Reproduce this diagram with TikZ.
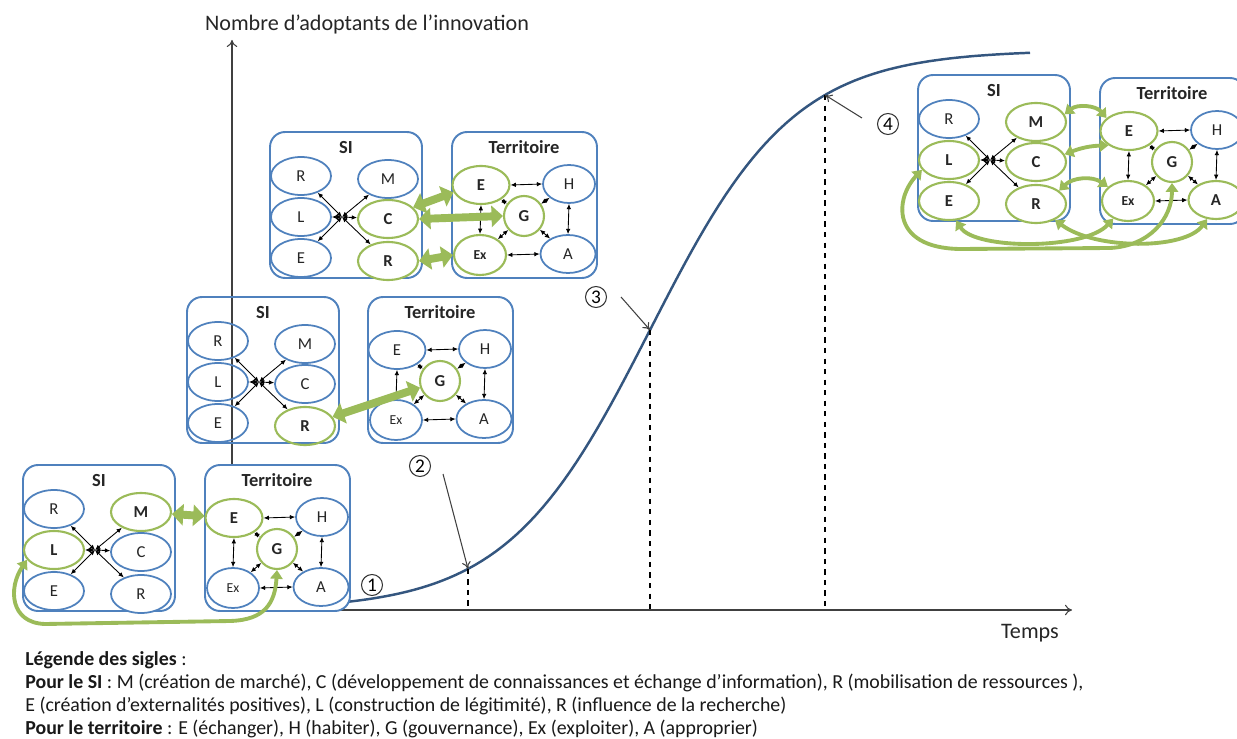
\documentclass[tikz,border=0pt]{standalone}
\usepackage{fontspec}
\setmainfont{Carlito}
\usepackage{tikz}
\usetikzlibrary{arrows.meta,shapes.geometric,calc}
\definecolor{bleuSI}{HTML}{4F81BD}
\definecolor{vertSI}{HTML}{9BBB59}
\definecolor{bleuCourbe}{HTML}{34567F}
\definecolor{gris}{HTML}{404040}
\newcommand{\Pente}{71.8}
\newcommand{\Milieu}{650}
% panneau SI : nom, x, y, puis styles de R, L, E, M, C, R
\newcommand{\PanneauSI}[9]{%
  \node[panel, minimum width=3.04cm] (#1) at (#2+76,#3-73) {};
  \node[titre] (#1-t) at (#2+76,#3-16) {SI};
  \node[sigle, #4] (#1-r) at (#2+31,#3-44) {R};
  \node[sigle, #5] (#1-l) at (#2+31,#3-85) {L};
  \node[sigle, #6] (#1-e) at (#2+31,#3-126) {E};
  \node[sigle, #7] (#1-m) at (#2+118,#3-47) {M};
  \node[sigle, #8] (#1-c) at (#2+118,#3-87) {C};
  \node[sigle, #9] (#1-rr) at (#2+118,#3-129) {R};
  \coordinate (#1-hub) at (#2+72,#3-85);
  \foreach \n in {r,l,e,m,c,rr}
    \draw[fleche] (#1-hub) -- (#1-\n);
}
% panneau territoire : nom, x, y, puis styles de E, H, G, Ex, A
\newcommand{\PanneauTE}[8]{%
  \node[panel, minimum width=2.9cm] (#1) at (#2+72.5,#3-73) {};
  \node[titre] (#1-t) at (#2+72,#3-15) {Territoire};
  \node[sigle, minimum width=1.14cm, #4] (#1-e) at (#2+29,#3-53) {E};
  \node[sigle, minimum width=1.04cm, #5] (#1-h) at (#2+117,#3-52) {H};
  \node[sigle, circle, minimum size=0.8cm, #6] (#1-g) at (#2+72,#3-84) {G};
  \node[sigle, minimum width=1.04cm, minimum height=0.8cm, #7] (#1-x) at (#2+28,#3-123) {\fontsize{7.8}{9}\selectfont Ex};
  \node[sigle, minimum width=1.1cm, #8] (#1-a) at (#2+116,#3-122) {A};
  \draw[fleche] (#1-e.east) -- (#1-h.west);
  \draw[fleche] (#1-e.south) -- (#1-x.north);
  \draw[fleche] (#1-h.south) -- (#1-a.north);
  \draw[fleche] (#1-x.east) -- (#1-a.west);
  \foreach \n in {e,h,x,a}
    \draw[fleche] (#1-g) -- (#1-\n);
}

\begin{document}
\begin{tikzpicture}[x=0.02cm, y=0.02cm,
    panel/.style={draw=bleuSI, line width=1.1pt, rounded corners=0.3cm, fill=white, minimum height=2.92cm},
    titre/.style={font=\fontsize{10.5}{12}\selectfont\bfseries, text=black!85},
    sigle/.style={ellipse, draw=bleuSI, line width=1pt, fill=white, minimum width=1.2cm, minimum height=0.76cm, inner sep=0pt, font=\fontsize{9.5}{11}\selectfont, text=black!85},
    passif/.style={draw=bleuSI},
    actif/.style={draw=vertSI, line width=1.2pt, font=\fontsize{9.5}{11}\selectfont\bfseries},
    fleche/.style={{Latex[length=3pt,width=2.6pt]}-{Latex[length=3pt,width=2.6pt]}, line width=0.5pt},
    grosse/.style={draw=vertSI, line width=4.5pt, {Triangle[length=6.5pt,width=12pt]}-{Triangle[length=6.5pt,width=12pt]}},
    boucle/.style={draw=vertSI, line width=2.2pt, {Triangle[length=5pt,width=7pt]}-{Triangle[length=5pt,width=7pt]}},
    axe/.style={draw=gris, line width=0.6pt, -{To[length=4pt,width=6pt]}},
    tirets/.style={line width=0.9pt, dash pattern=on 3pt off 3pt},
    pointe/.style={draw=gris, line width=0.6pt, -{To[length=4pt,width=5pt]}},
    numero/.style={circle, draw=black!80, line width=0.6pt, minimum size=0.42cm, inner sep=0pt, font=\fontsize{11}{12}\selectfont},
    texte/.style={font=\fontsize{12.6}{14}\selectfont, text=black!85},
    legende/.style={font=\fontsize{11.3}{13}\selectfont, text=black!90, anchor=base west, inner sep=0pt}]
  \useasboundingbox (0,0) rectangle (1237,738);

  % axes
  \coordinate (o) at (232,128);
  \coordinate (ymax) at (232,698);
  \coordinate (xmax) at (1072,128);
  \draw[axe] (o) -- (ymax);
  \draw[axe] (o) -- (xmax);

  % courbe de diffusion
  \draw[draw=bleuCourbe, line width=1.4pt] plot[domain=225:1030, samples=120]
    (\x, {128+560/(1+exp(-(\x-\Milieu)/\Pente))});
  \coordinate (p2) at (468, {128+560/(1+exp(-(468-\Milieu)/\Pente))});
  \coordinate (p3) at (650, {128+560/(1+exp(-(650-\Milieu)/\Pente))});
  \coordinate (p4) at (825, {128+560/(1+exp(-(825-\Milieu)/\Pente))});
  \draw[tirets] (p2) -- (p2 |- o);
  \draw[tirets] (p3) -- (p3 |- o);
  \draw[tirets] (p4) -- (p4 |- o);

  % etapes
  \node[numero] (n1) at (372,153) {1};
  \node[numero] (n2) at (420,272) {2};
  \node[numero] (n3) at (596,441) {3};
  \node[numero] (n4) at (888,614) {4};
  \draw[pointe] ([shift={(12,-8)}]n2.east) -- (p2);
  \draw[pointe] ([shift={(14,0)}]n3.east) -- (p3);
  \draw[pointe] ([shift={(-15,6)}]n4.west) -- (p4);

  % etape 1
  \PanneauSI{s1}{23}{273}{passif}{actif}{passif}{actif}{passif}{passif}
  \PanneauTE{t1}{205}{273}{actif}{passif}{actif}{passif}{passif}
  % etape 2
  \begin{scope}[panel/.append style={fill=none}, sigle/.append style={fill=none}]
    \PanneauSI{s2}{187}{441}{passif}{passif}{passif}{passif}{passif}{actif}
  \end{scope}
  \PanneauTE{t2}{368}{441}{passif}{passif}{actif}{passif}{passif}
  % etape 3
  \PanneauSI{s3}{270}{606}{passif}{passif}{passif}{passif}{actif}{actif}
  \PanneauTE{t3}{452}{606}{actif}{passif}{actif}{actif}{passif}
  % etape 4
  \PanneauSI{s4}{918}{663}{passif}{actif}{actif}{actif}{actif}{actif}
  \PanneauTE{t4}{1100}{660}{actif}{passif}{actif}{actif}{actif}

  % liens SI - territoire
  \draw[grosse] (s1-m) -- (t1-e);
  \draw[boucle] (s1-l.200) .. controls (8,150) and (10,115) .. (45,114) -- (230,117)
    .. controls (265,118) and (275,135) .. (t1-g.south);
  \draw[grosse] (s2-rr) -- (t2-g);
  \draw[grosse] (s3-c.25) -- (t3-e.195);
  \draw[grosse] (s3-c.east) -- (t3-g.west);
  \draw[grosse] (s3-rr.east) -- (t3-x.west);
  \draw[boucle] (s4-m.15) to[bend left=45] (t4-e.150);
  \draw[boucle] (s4-c.15) to[bend left=10] (t4-e.215);
  \draw[boucle] (s4-rr.30) to[bend left=40] (t4-x.145);
  \draw[boucle] (s4-e.290) .. controls (975,488) and (1085,488) .. (t4-x.230);
  \draw[boucle] (s4-rr.320) .. controls (1095,488) and (1185,488) .. (t4-a.245);
  \draw[boucle] (s4-l.200) .. controls (895,540) and (890,490) .. (960,489) -- (1110,490)
    .. controls (1150,492) and (1172,520) .. (t4-g.south);

  % textes
  \node[texte, anchor=base] (ordonnee) at (367,707) {Nombre d’adoptants de l’innovation};
  \node[texte, anchor=base] (abscisse) at (1030,100) {Temps};
  \node[legende] (leg1) at (25,73) {\textbf{Légende des sigles} :};
  \node[legende] (leg2) at (25,50) {\textbf{Pour le SI} : M (création de marché), C (développement de connaissances et échange d’information), R (mobilisation de ressources ),};
  \node[legende] (leg3) at (25,27) {E (création d’externalités positives), L (construction de légitimité), R (influence de la recherche)};
  \node[legende] (leg4) at (25,4) {\textbf{Pour le territoire} : E (échanger), H (habiter), G (gouvernance), Ex (exploiter), A (approprier)};
\end{tikzpicture}
\end{document}
